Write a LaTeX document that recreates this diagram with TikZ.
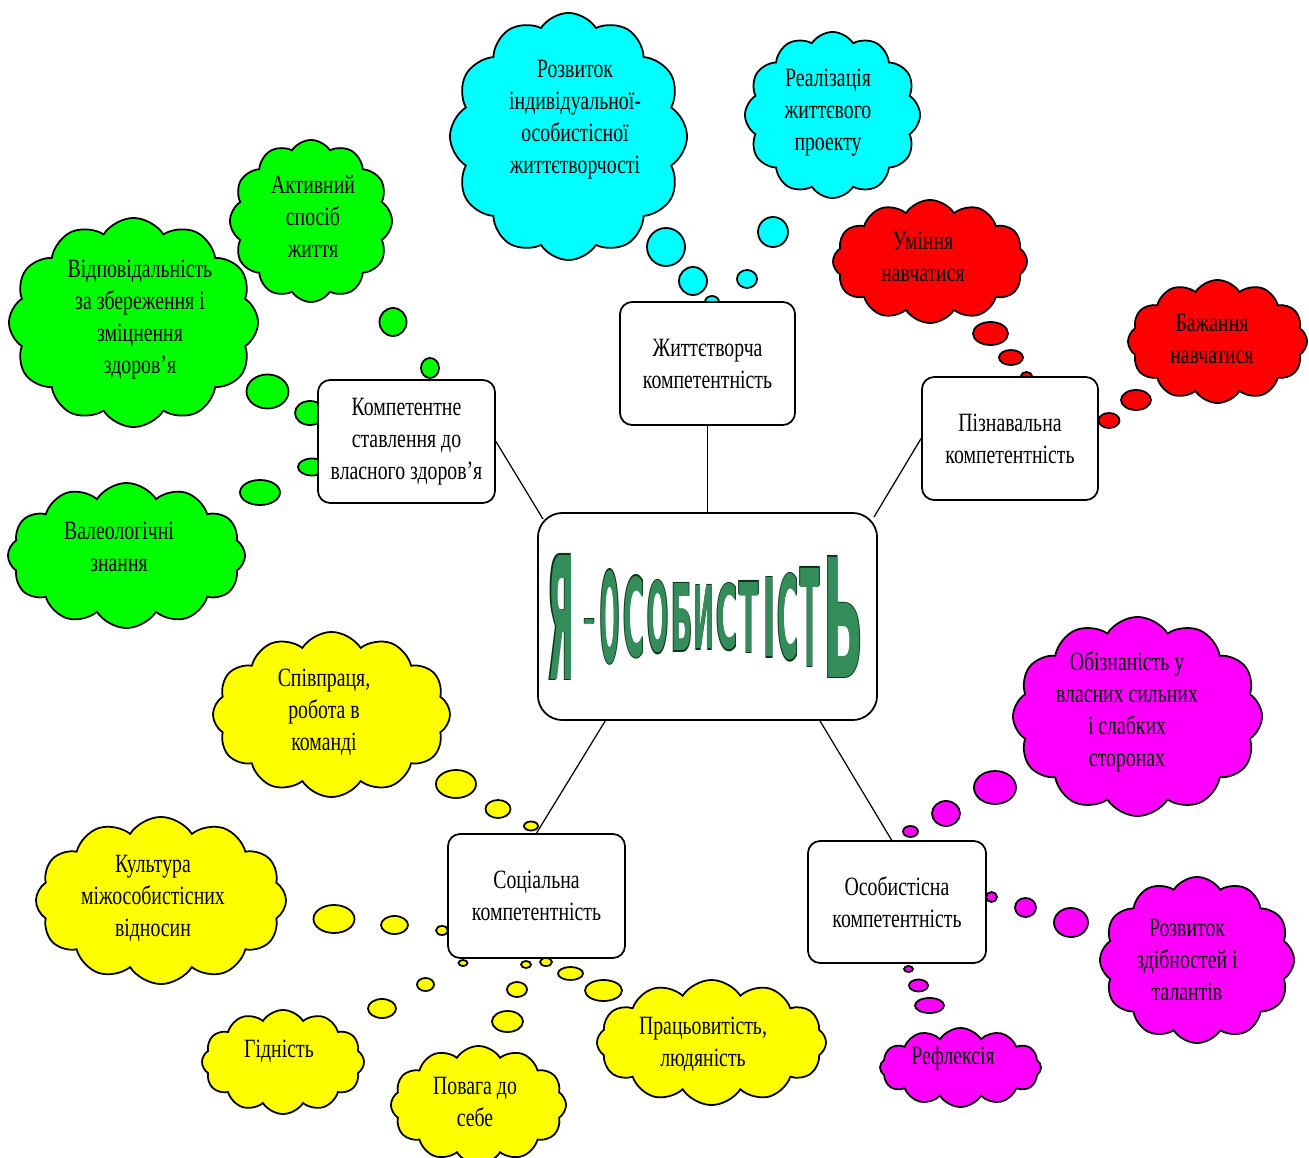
\documentclass[tikz,border=0pt]{standalone}
\usepackage{fontspec}
\setmainfont{Liberation Serif}[FakeStretch=0.75]
\newfontfamily\titlefont{DejaVu Sans}
\usetikzlibrary{shapes.symbols, shapes.geometric, calc}
\definecolor{thgreen}{RGB}{0,255,0}
\definecolor{thcyan}{RGB}{0,255,255}
\definecolor{thred}{RGB}{255,0,0}
\definecolor{thyellow}{RGB}{255,255,0}
\definecolor{thmagenta}{RGB}{255,0,255}
\definecolor{titlegreen}{RGB}{51,140,90}
\definecolor{titleedge}{RGB}{10,50,25}
\tikzstyle{compbox}=[
rectangle,
draw,
line width=0.5pt,
fill=white,
rounded corners=3.5pt,
minimum width=1.77cm,
minimum height=1.23cm,
align=center,
inner sep=0pt,
font=\fontsize{7.5}{9.1}\selectfont,
]
\tikzstyle{thought}=[
cloud,
cloud puffs=12,
cloud puff arc=115,
cloud ignores aspect,
draw,
line width=0.5pt,
inner sep=0pt,
]
\tikzstyle{puff}=[ellipse, draw, line width=0.5pt, inner sep=0pt]
\tikzstyle{lbl}=[align=center, inner sep=0pt, font=\fontsize{7.5}{9.1}\selectfont]
\tikzstyle{link}=[line width=0.35pt]

\begin{document}
\begin{tikzpicture}
        [x=0.01cm, y=-0.01cm]
        \useasboundingbox[fill=white] (0,0) rectangle (1309,1158);

        % thought clouds
        \begin{scope}[every node/.style=thought]
          \node[fill=thgreen, minimum width=1.62cm, minimum height=1.62cm] (gact) at (311,221) {};
          \node[fill=thgreen, minimum width=2.49cm, minimum height=2.09cm] (gresp) at (133.5,322.5) {};
          \node[fill=thgreen, minimum width=2.37cm, minimum height=1.45cm] (gval) at (126.5,555.5) {};
          \node[fill=thcyan, minimum width=2.37cm, minimum height=2.47cm] (cdev) at (568.5,136.5) {};
          \node[fill=thcyan, minimum width=1.75cm, minimum height=1.66cm] (cproj) at (832.5,115) {};
          \node[fill=thred, minimum width=1.94cm, minimum height=1.23cm] (rskill) at (930,261.5) {};
          \node[fill=thred, minimum width=1.79cm, minimum height=1.23cm] (rwish) at (1217.5,341.5) {};
          \node[fill=thyellow, minimum width=2.37cm, minimum height=1.65cm] (yteam) at (331.5,714.5) {};
          \node[fill=thyellow, minimum width=2.50cm, minimum height=1.67cm] (ycult) at (161,900.5) {};
          \node[fill=thyellow, minimum width=1.62cm, minimum height=1.04cm] (ydign) at (283,1062) {};
          \node[fill=thyellow, minimum width=1.75cm, minimum height=1.18cm] (yresp) at (478.5,1105) {};
          \node[fill=thyellow, minimum width=2.29cm, minimum height=1.25cm] (ywork) at (711.5,1042.5) {};
          \node[fill=thmagenta, minimum width=2.49cm, minimum height=1.99cm] (maware) at (1137.5,716.5) {};
          \node[fill=thmagenta, minimum width=1.94cm, minimum height=1.66cm] (mtal) at (1197,960) {};
          \node[fill=thmagenta, minimum width=1.61cm, minimum height=0.79cm] (mrefl) at (960.5,1067.5) {};
        \end{scope}

        \node[lbl] (gact-t) at (313,216) {Активний\\спосіб\\життя};
        \node[lbl] (gresp-t) at (140,320) {Відповідальність\\за збереження і\\зміцнення\\здоров’я};
        \node[lbl] (gval-t) at (119,547) {Валеологічні\\знання};
        \node[lbl] (cdev-t) at (575,120) {Розвиток\\індивідуальної-\\особистісної\\життєтворчості};
        \node[lbl] (cproj-t) at (828,113) {Реалізація\\життєвого\\проекту};
        \node[lbl] (rskill-t) at (923,257) {Уміння\\навчатися};
        \node[lbl] (rwish-t) at (1212,339) {Бажання\\навчатися};
        \node[lbl] (yteam-t) at (324,712) {Співпраця,\\робота в\\команді};
        \node[lbl] (ycult-t) at (153,898) {Культура\\міжособистісних\\відносин};
        \node[lbl] (ydign-t) at (279,1051) {Гідність};
        \node[lbl] (yresp-t) at (475,1102) {Повага до\\себе};
        \node[lbl] (ywork-t) at (703,1044) {Працьовитість,\\людяність};
        \node[lbl] (maware-t) at (1127,712) {Обізнаність у\\власних сильних\\і слабких\\сторонах};
        \node[lbl] (mtal-t) at (1187,960) {Розвиток\\здібностей і\\талантів};
        \node[lbl] (mrefl-t) at (953,1058) {Рефлексія};

        % bubbles
        \foreach \x/\y/\rx/\ry/\c [count=\i] in {
          393/322/13.5/14/thgreen, 430/368/9/10/thgreen, 267.5/391.5/21/17/thgreen,
          310/413/15/12/thgreen, 312/467/14/8.5/thgreen, 260/492.5/20/12.5/thgreen,
          666/247/19/19/thcyan, 693/281/14/14/thcyan, 712/302/7/6/thcyan,
          773/232/15/15/thcyan, 747/279/10/9/thcyan,
          990.5/333.5/17.5/11.5/thred, 1011/357.5/12/7.5/thred, 1026.5/376/5.5/4/thred,
          1136/400/15/10/thred, 1109/420.5/10.5/7.5/thred,
          456/784/20/14/thyellow, 498/809/12.5/9/thyellow, 531/826/7/4.5/thyellow,
          334/919/20.5/14/thyellow, 394.5/925/13.5/9/thyellow, 442/930.5/6/4.5/thyellow,
          463/963/4.5/3/thyellow, 425.5/984.5/8.5/6.5/thyellow, 382/1008.5/14/9.5/thyellow,
          526/964.5/5/3.5/thyellow, 517/989.5/10/7.5/thyellow, 507.5/1021.5/15.5/10.5/thyellow,
          546/962/6/4/thyellow, 570.5/973.5/12.5/6.5/thyellow, 603.5/990.5/18.5/10.5/thyellow,
          995/787.5/21/16.5/thmagenta, 946/813.5/14/12.5/thmagenta, 910.5/831.5/7.5/5.5/thmagenta,
          991.5/897/5.5/5/thmagenta, 1025.5/907.5/10.5/9.5/thmagenta, 1071/922.5/17/14.5/thmagenta,
          908.5/969/4.5/3/thmagenta, 918.5/985.5/9.5/6/thmagenta, 929.5/1005.5/14.5/7.5/thmagenta}
          \node[puff, fill=\c, minimum width=\rx*0.02cm, minimum height=\ry*0.02cm] (p\i) at (\x,\y) {};

        % centre and competences
        \node[compbox, rounded corners=7pt, minimum width=3.39cm, minimum height=2.07cm] (self) at (707.5,616.5) {};
        \node[compbox] (health) at (406.5,441.5) {Компетентне\\ставлення до\\власного здоров’я};
        \node[compbox, minimum width=1.75cm] (life) at (707.5,363.5) {Життєтворча\\компетентність};
        \node[compbox, minimum width=1.76cm] (cogn) at (1010,438.5) {Пізнавальна\\компетентність};
        \node[compbox, minimum height=1.24cm] (social) at (536.5,896) {Соціальна\\компетентність};
        \node[compbox, minimum width=1.78cm, minimum height=1.22cm] (personal) at (897,902) {Особистісна\\компетентність};

        \draw[link] (self) -- (life);
        \draw[link] ($(self.north west)+(6,7)$) -- (health.east);
        \draw[link] ($(self.north east)+(-4,5)$) -- (cogn.west);
        \draw[link] ($(self.south west)!0.2!(self.south east)$) -- (social.north);
        \draw[link] ($(self.south west)!0.83!(self.south east)$) -- ($(personal.north west)!0.47!(personal.north east)$);

        % title letters
        \foreach \x/\y/\w/\h/\l [count=\i, evaluate=\w as \ow using \w+0.02, evaluate=\h as \oh using \h+0.03] in {
          561/617/0.26/1.24/Я, 589/625/0.12/0.11/-, 610/617/0.19/0.92/О, 634/617/0.21/0.80/С,
          658/617/0.21/0.71/О, 682/617/0.21/0.67/Б, 704/617/0.19/0.63/И, 727/617/0.21/0.65/С,
          749/617/0.19/0.70/Т, 769/617/0.12/0.79/І, 788/617/0.21/0.85/С, 810/617/0.19/0.98/Т,
          843/617/0.40/1.20/Ь} {
          \node[inner sep=0pt, text=titleedge] (e\i) at (\x,\y) {\resizebox{\ow cm}{\oh cm}{\titlefont\bfseries\l}};
          \node[inner sep=0pt, text=titlegreen] (l\i) at (\x,\y) {\resizebox{\w cm}{\h cm}{\titlefont\bfseries\l}};
        }
      \end{tikzpicture}
\end{document}
